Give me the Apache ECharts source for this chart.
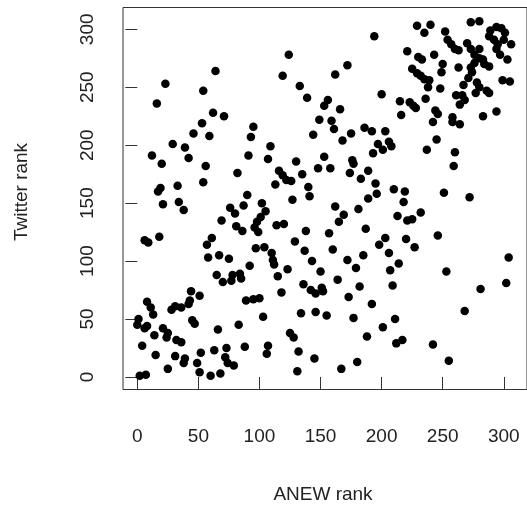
<!DOCTYPE html>
<html><head><meta charset="utf-8">
<script src="https://cdn.jsdelivr.net/npm/echarts@6/dist/echarts.min.js"></script>
<style>html,body{margin:0;padding:0;background:#fff}#c{width:527px;height:507px}</style>
</head><body><div id="c"></div>
<script>
const anewRank = [
64,23,54,16,62,71,53,95,
46,59,93,29,39,12,42,91,20,56,82,54,33,19,17,90,34,21,38,76,87,80,69,81,86,96,6,9,18,61,57,97,58,67,75,
92,65,70,78,84,77,85,44,51,89,95,8,11,13,28,31,36,42,43,1,0,6,8,45,47,14,21,25,24,32,36,66,83,4,15,31,39,38,52,63,73,72,74,79,88,49,25,51,60,68,2,7,
194,124,119,172,162,133,139,200,156,153,166,149,159,161,186,192,203,144,175,
168,109,107,130,153,148,158,176,177,193,197,201,189,174,183,116,119,122,126,135,113,140,141,127,195,196,189,102,105,101,98,99,162,169,165,181,114,120,138,157,187,129,104,110,137,160,198,185,203,143,172,111,
112,123,115,150,179,164,136,142,146,151,152,182,118,173,192,100,103,134,146,155,177,201,125,128,188,107,106,132,145,180,167,131,
229,240,235,273,280,252,254,257,260,263,270,273,280,276,289,294,298,301,288,292,300,295,306,294,297,303,299,305,221,230,233,243,250,249,263,225,229,232,235,239,238,248,273,276,280,283,284,288,274,271,267,278,280,286,288,277,261,266,268,264,236,215,223,226,228,216,244,246,258,283,294,242,258,264,
206,208,245,237,260,259,210,219,251,272,218,232,213,221,225,246,220,227,206,304,
214,207,209,253,281,302,268,211,212,217,242,255
];
const twitterRank = [
264,253,247,236,228,225,219,216,
210,208,207,201,198,191,189,191,184,182,176,168,165,163,160,157,151,149,144,146,148,141,135,130,126,129,118,116,121,120,114,111,103,105,102,
96,88,82,88,89,83,85,74,70,66,67,65,60,54,58,61,60,63,66,50,45,42,44,49,46,36,42,38,34,32,30,41,45,27,19,18,16,12,21,23,25,17,12,10,26,12,7,4,1,3,1,2,
294,278,260,269,261,251,241,244,239,234,231,222,221,214,215,212,212,209,210,
204,199,188,186,190,180,180,187,184,193,201,196,178,176,171,178,174,170,169,175,166,164,156,153,167,158,154,150,143,138,134,125,147,140,134,145,131,132,126,124,128,117,112,107,109,110,114,105,120,100,101,101,
97,93,87,91,94,84,80,75,72,77,74,78,73,69,63,68,52,55,56,53,51,43,38,34,35,27,20,22,16,13,7,5,
303,304,297,306,307,298,291,287,283,282,288,283,283,278,299,302,301,297,294,291,291,287,287,283,278,274,256,255,281,276,274,278,270,263,267,266,262,260,257,256,250,249,267,271,275,274,270,268,263,258,252,254,250,247,245,245,243,243,239,235,240,238,237,234,232,226,230,227,224,225,229,220,220,218,
203,199,205,196,194,182,162,160,159,155,151,142,139,135,136,122,119,112,107,103,
98,92,79,91,76,81,57,50,29,32,28,14
];
const xTicks = [0,50,100,150,200,250,300];
const yTicks = [0,50,100,150,200,250,300];
const xTitle = 'ANEW rank';
const yTitle = 'Twitter rank';

const points = anewRank.map((x, i) => [x, twitterRank[i]]);
const font = 'Liberation Sans, Arial, sans-serif';
const chart = echarts.init(document.getElementById('c'), null, {renderer: 'canvas'});
chart.setOption({
  animation: false,
  backgroundColor: '#fff',
  grid: {left: 123, top: 7.5, width: 407, height: 382, show: true, borderColor: '#333', borderWidth: 1},
  xAxis: {
    type: 'value', min: -11.7, max: 319,
    axisLine: {show: false}, splitLine: {show: false},
    axisTick: {show: true, customValues: xTicks, length: 12, lineStyle: {color: '#333', width: 1}},
    axisLabel: {customValues: xTicks, margin: 38, fontSize: 19, color: '#222', fontFamily: font}
  },
  yAxis: {
    type: 'value', min: -10.8, max: 318.8,
    axisLine: {show: false}, splitLine: {show: false},
    axisTick: {show: true, customValues: yTicks, length: 12, lineStyle: {color: '#333', width: 1}},
    axisLabel: {customValues: yTicks, rotate: 90, margin: 26, fontSize: 19, color: '#222', fontFamily: font}
  },
  graphic: [
    {type: 'text', x: 323, y: 495, style: {text: xTitle, x: 0, y: 0, fontSize: 19, fill: '#222', fontFamily: font, textAlign: 'center', textVerticalAlign: 'middle'}},
    {type: 'text', x: 22, y: 192, rotation: Math.PI / 2, style: {text: yTitle, x: 0, y: 0, fontSize: 19, fill: '#222', fontFamily: font, textAlign: 'center', textVerticalAlign: 'middle'}}
  ],
  series: [{
    type: 'scatter', data: points, symbol: 'circle', symbolSize: 8.5,
    itemStyle: {color: '#000', opacity: 1}, silent: true
  }]
});
</script></body></html>
